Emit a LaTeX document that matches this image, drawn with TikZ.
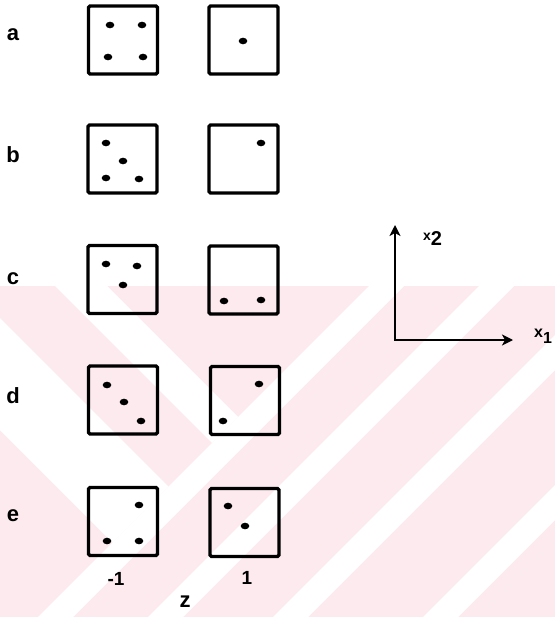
\documentclass[tikz,border=0pt]{standalone}
\usepackage{fontspec}
\setsansfont{Liberation Sans}
\usetikzlibrary{arrows.meta}
\definecolor{wmpink}{RGB}{253,234,238}
\begin{document}
\begin{tikzpicture}[x=1pt,y=-1pt,
  panel/.style={draw=black, line width=3.2pt, rounded corners=1.5pt,
    minimum width=69pt, minimum height=68pt, inner sep=0pt},
  lbl/.style={font=\sffamily\bfseries\fontsize{22}{22}\selectfont, inner sep=0pt},
  numlbl/.style={font=\sffamily\bfseries\fontsize{19}{19}\selectfont, inner sep=0pt},
  axis/.style={line width=2.8pt},
  dotfill/.style={fill=black}]
\useasboundingbox (0,0) rectangle (555,617);

% light background stripes
\begin{scope}
  \clip (0,286) rectangle (555,617);
  \fill[wmpink] (0,286) rectangle (555,617);
  \foreach \a/\b in {655/690, 765/800, 890/925, 1040/1075}
    \fill[white] (\a,0) -- (\a-800,800) -- (\b-800,800) -- (\b,0) -- cycle;
  \fill[white] (107,286) -- (238,417) -- (212,443) -- (55,286) -- cycle;
  \fill[white] (0,318) -- (168.5,486.5) -- (112.5,542.5) -- (0,430) -- cycle;
\end{scope}

% row labels
\node[lbl] (la) at (13,35) {a};
\node[lbl] (lb) at (13,155) {b};
\node[lbl] (lc) at (13,279) {c};
\node[lbl] (ld) at (13,396) {d};
\node[lbl] (le) at (13,516) {e};

% panels
\node[panel] (a1) at (123,40) {};
\node[panel] (a2) at (243.5,40) {};
\node[panel] (b1) at (122.5,159) {};
\node[panel] (b2) at (243.5,159) {};
\node[panel] (c1) at (122.5,279.5) {};
\node[panel] (c2) at (243.5,280) {};
\node[panel] (d1) at (123,400) {};
\node[panel] (d2) at (245,400.5) {};
\node[panel] (e1) at (123,521.5) {};
\node[panel] (e2) at (244.5,522.5) {};

% points in each panel
\foreach \p in {(110,25),(142,25),(108,57),(143,57),
                (243,41),
                (106,143),(123,161),(106,178),(139,179),
                (261,143),
                (106,264),(137,266),(123,285),
                (224,301),(261,300),
                (107,385),(124,402),(141,421),
                (259,384),(223,421),
                (139,505),(107,541),(139,541),
                (228,506),(245,526)}
  \fill[dotfill] \p ellipse [x radius=4.3pt, y radius=3.3pt];

% column labels
\node[numlbl] (m1) at (116,579) {-1};
\node[numlbl] (p1) at (247,578) {1};
\node[lbl] (zl) at (185,602) {z};

% coordinate axes
\coordinate (O) at (395,340);
\coordinate (Y) at (395,225);
\coordinate (X) at (513,340);
\draw[axis, {Stealth[length=11pt,width=11pt,inset=3pt]}-{Stealth[length=11pt,width=11pt,inset=3pt]}] (Y) -- (O) -- (X);
\node[inner sep=0pt, anchor=west] (x2) at (423,239)
  {\sffamily\bfseries\fontsize{14}{14}\selectfont x\raisebox{-5pt}{\fontsize{20}{20}\selectfont 2}};
\node[inner sep=0pt, anchor=west] (x1) at (534,336)
  {\sffamily\bfseries\fontsize{16}{16}\selectfont x\raisebox{-6pt}{\fontsize{16}{16}\selectfont 1}};
\end{tikzpicture}
\end{document}
